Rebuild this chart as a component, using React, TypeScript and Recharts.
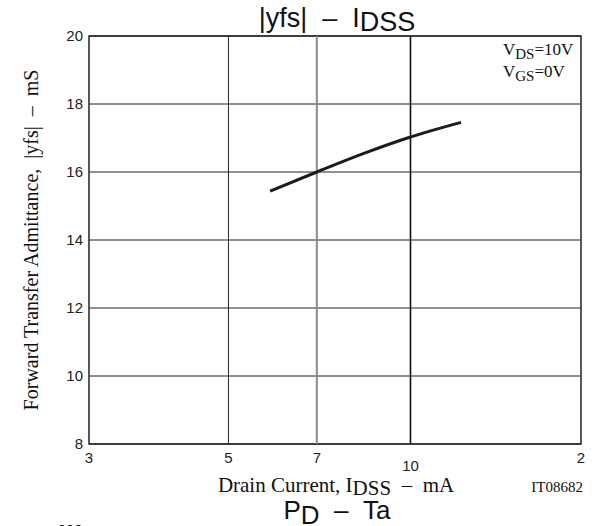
import { LineChart, Line, XAxis, YAxis, CartesianGrid, ReferenceLine, ReferenceArea } from 'recharts'

// axis set-up: log scale for drain current, linear for admittance
const X_DOMAIN: [number, number] = [2.94, 19.14]
const X_TICKS = [2.94, 5, 7, 10, 19.14]
const X_TICK_LABELS = ['3', '5', '7', '10', '2']
const X_GRID = [5, 7, 10]
const Y_TICKS = [8, 10, 12, 14, 16, 18, 20]

// |yfs| vs IDSS curve
const IDSS = [5.86, 7, 8.35, 10, 12.12]
const YFS = [15.44, 16.0, 16.54, 17.03, 17.46]

const data = IDSS.map((x, i) => ({ x, yfs: YFS[i] }))

const SANS = '"Liberation Sans", Arial, sans-serif'
const SERIF = '"Liberation Serif", "Times New Roman", serif'
const SP = '\u00a0'

const gridStyle: Record<number, { stroke: string; width: number }> = {
  5: { stroke: '#222', width: 1 },
  7: { stroke: '#8c8c8c', width: 2 },
  10: { stroke: '#111', width: 1.6 },
}

function XTick(props: any) {
  const { x, y, payload } = props
  const idx = X_TICKS.indexOf(payload.value)
  const label = X_TICK_LABELS[idx] ?? String(payload.value)
  // the decade label sits a little lower than the others
  const drop = label === '10' ? 8 : 0
  return (
    <text x={x} y={y + drop} dy="0.71em" textAnchor="middle" fontFamily={SANS} fontSize={15} fill="#222">
      {label}
    </text>
  )
}

export default function App() {
  return (
    <div style={{ position: 'absolute', left: 0, top: 0, width: 602, height: 526, background: '#fff' }}>
      <LineChart width={602} height={526} data={data} margin={{ top: 36, right: 21, bottom: 0, left: 0 }}>
        <CartesianGrid vertical={false} stroke="#222" strokeWidth={1} />
        {X_GRID.map((v) => (
          <ReferenceLine key={v} x={v} stroke={gridStyle[v].stroke} strokeWidth={gridStyle[v].width} />
        ))}
        <XAxis
          dataKey="x"
          type="number"
          scale="log"
          domain={X_DOMAIN}
          ticks={X_TICKS}
          allowDataOverflow
          height={82}
          tickSize={0}
          tickMargin={8}
          axisLine={false}
          tick={<XTick />}
        />
        <YAxis
          type="number"
          domain={[8, 20]}
          ticks={Y_TICKS}
          width={89}
          tickSize={0}
          tickMargin={6}
          axisLine={false}
          tick={{ fill: '#222', fontSize: 15, fontFamily: SANS }}
        />
        <ReferenceArea
          x1={X_DOMAIN[0]}
          x2={X_DOMAIN[1]}
          y1={8}
          y2={20}
          fill="none"
          fillOpacity={0}
          stroke="#222"
          strokeWidth={1.5}
        />
        <Line
          type="monotone"
          dataKey="yfs"
          stroke="#1c1c1c"
          strokeWidth={3}
          dot={false}
          isAnimationActive={false}
        />
      </LineChart>
      <svg width={602} height={526} style={{ position: 'absolute', left: 0, top: 0, pointerEvents: 'none' }}>
        <text x={337} y={27} textAnchor="middle" fontFamily={SANS} fontSize={27} fill="#111">
          {`|yfs|${SP}${SP}–${SP}${SP}I`}
          <tspan dy={4}>DSS</tspan>
        </text>
        <text x={503} y={55} fontFamily={SERIF} fontSize={17} fill="#111">
          V<tspan dy={4} fontSize={15}>DS</tspan>
          <tspan dy={-4}>=10V</tspan>
        </text>
        <text x={503} y={77} fontFamily={SERIF} fontSize={17} fill="#111">
          V<tspan dy={4} fontSize={15}>GS</tspan>
          <tspan dy={-4}>=0V</tspan>
        </text>
        <text
          x={38}
          y={240}
          transform="rotate(-90 38 240)"
          textAnchor="middle"
          fontFamily={SERIF}
          fontSize={20}
          fill="#111"
        >
          {`Forward Transfer Admittance,${SP}${SP}|yfs|${SP}${SP}–${SP}${SP}mS`}
        </text>
        <text x={336} y={492} textAnchor="middle" fontFamily={SERIF} fontSize={21} fill="#111">
          Drain Current, I<tspan dy={3}>DSS</tspan>
          <tspan dy={-3}>{`${SP}${SP}–${SP}${SP}mA`}</tspan>
        </text>
        <text x={583} y={492} textAnchor="end" fontFamily={SERIF} fontSize={15} fill="#111">
          IT08682
        </text>
        <text x={337} y={519} textAnchor="middle" fontFamily={SANS} fontSize={26} fill="#111">
          P<tspan dy={5}>D</tspan>
          <tspan dy={-5}>{`${SP}${SP}–${SP}${SP}Ta`}</tspan>
        </text>
        <text x={70} y={535} textAnchor="middle" fontFamily={SANS} fontSize={15} fill="#111">
          200
        </text>
      </svg>
    </div>
  )
}
